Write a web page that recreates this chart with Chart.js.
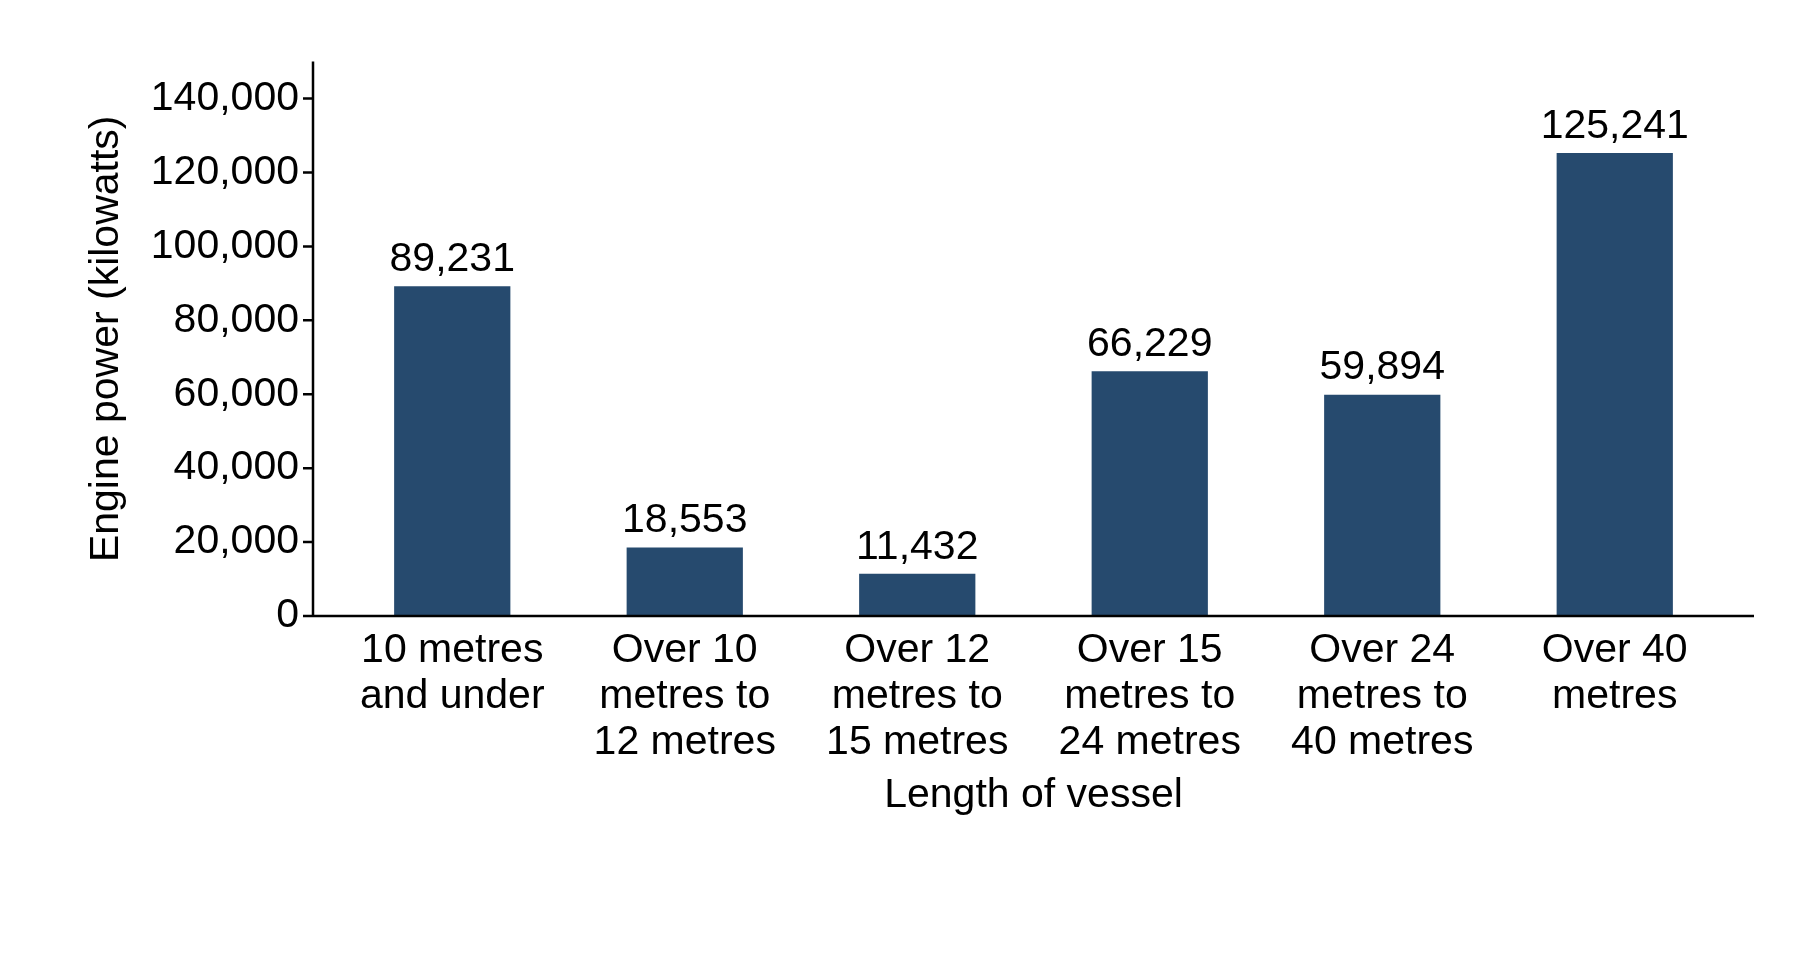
<!DOCTYPE html>
<html>
<head>
<meta charset="utf-8">
<script src="https://cdn.jsdelivr.net/npm/chart.js@4"></script>
<style>
  html, body { margin: 0; padding: 0; background: #fff; }
  #wrap { width: 1796px; height: 954px; }
</style>
</head>
<body>
<div id="wrap"><canvas id="chart" width="1796" height="954"></canvas></div>
<script>
// Engine power by vessel length
const categories = [
  ['10 metres', 'and under'],
  ['Over 10', 'metres to', '12 metres'],
  ['Over 12', 'metres to', '15 metres'],
  ['Over 15', 'metres to', '24 metres'],
  ['Over 24', 'metres to', '40 metres'],
  ['Over 40', 'metres']
];
const enginePower = [89231, 18553, 11432, 66229, 59894, 125241];
const yTicks = [0, 20000, 40000, 60000, 80000, 100000, 120000, 140000];

const FONT = '"Liberation Sans", Arial, sans-serif';
const AXIS_GAP = 23;

// Draw axis lines slightly outside the category area, like the original
const axisLines = {
  id: 'axisLines',
  afterDraw(chart) {
    const { ctx, chartArea, scales } = chart;
    const x0 = chartArea.left - AXIS_GAP;
    const y0 = scales.y.getPixelForValue(0);
    ctx.save();
    ctx.strokeStyle = '#000';
    ctx.lineWidth = 2.5;
    ctx.beginPath();
    ctx.moveTo(x0, chartArea.top);
    ctx.lineTo(x0, y0);
    ctx.lineTo(chartArea.right + AXIS_GAP, y0);
    yTicks.forEach(t => {
      const y = scales.y.getPixelForValue(t);
      ctx.moveTo(x0 - 10, y);
      ctx.lineTo(x0, y);
    });
    ctx.stroke();
    ctx.restore();
  }
};

const valueLabels = {
  id: 'valueLabels',
  afterDatasetsDraw(chart) {
    const { ctx } = chart;
    const meta = chart.getDatasetMeta(0);
    ctx.save();
    ctx.font = '41px ' + FONT;
    ctx.fillStyle = '#000';
    ctx.textAlign = 'center';
    ctx.textBaseline = 'bottom';
    meta.data.forEach((bar, i) => {
      ctx.fillText(enginePower[i].toLocaleString('en-GB'), bar.x, bar.y - 6);
    });
    ctx.restore();
  }
};

new Chart(document.getElementById('chart'), {
  type: 'bar',
  data: {
    labels: categories,
    datasets: [{
      data: enginePower,
      backgroundColor: '#264a6e',
      barPercentage: 0.5,
      categoryPercentage: 1.0
    }]
  },
  options: {
    responsive: false,
    animation: false,
    layout: { padding: { top: 52, right: 65, left: 82, bottom: 134 } },
    plugins: { legend: { display: false }, tooltip: { enabled: false } },
    scales: {
      x: {
        grid: { display: false, drawTicks: false },
        border: { display: false },
        ticks: { color: '#000', font: { family: FONT, size: 41, lineHeight: 1.12 }, padding: 12, maxRotation: 0, autoSkip: false },
        title: {
          display: true, text: 'Length of vessel', color: '#000',
          font: { family: FONT, size: 41 }, padding: { top: 0, bottom: 0 }
        },
        afterFit(scale) { scale.height = 204; }
      },
      y: {
        min: 0, max: 150000,
        grid: { display: false, drawTicks: false },
        border: { display: false },
        afterBuildTicks(scale) { scale.ticks = yTicks.map(v => ({ value: v })); },
        ticks: {
          color: '#000', font: { family: FONT, size: 41 }, padding: AXIS_GAP + 14,
          callback: v => v.toLocaleString('en-GB')
        },
        title: {
          display: true, text: 'Engine power (kilowatts)', color: '#000',
          font: { family: FONT, size: 41 }, padding: 0
        },
        afterFit(scale) { scale.width = 254; }
      }
    }
  },
  plugins: [axisLines, valueLabels]
});
</script>
</body>
</html>
